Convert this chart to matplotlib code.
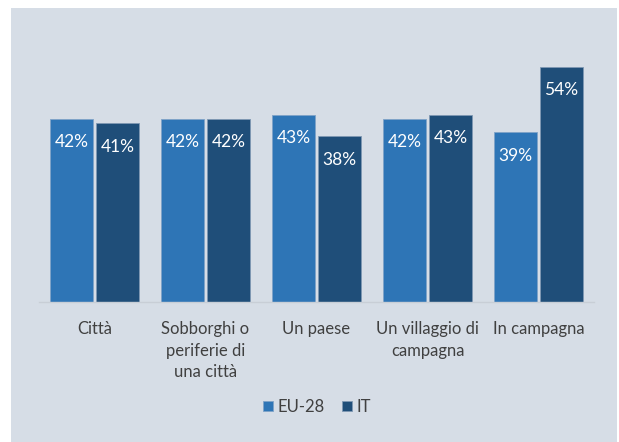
import matplotlib.pyplot as plt
import numpy as np
from matplotlib.patches import Rectangle

categorie = ['Città', 'Sobborghi o\nperiferie di\nuna città', 'Un paese',
             'Un villaggio di\ncampagna', 'In campagna']
eu28 = [42, 42, 43, 42, 39]
it = [41, 42, 38, 43, 54]
serie = ['EU-28', 'IT']

col_eu = '#2e75b6'
col_it = '#1f4e79'
sfondo = '#d6dde6'
testo = '#404040'

plt.rcParams['font.family'] = ['Lato', 'DejaVu Sans']

fig = plt.figure(figsize=(6.19, 4.42), dpi=100)
fig.patch.set_facecolor('white')
# pannello grigio-azzurro
fig.add_artist(Rectangle((11 / 619, 0), 606 / 619, 434 / 442,
                         transform=fig.transFigure, facecolor=sfondo,
                         edgecolor='none', zorder=-1))

ax = fig.add_axes([39 / 619, 1 - 302 / 442, 555 / 619, 261.6 / 442])
ax.set_facecolor('none')
ax.set_zorder(1)

x = np.arange(len(categorie))
w = 43 / 111
off = 23 / 111
b1 = ax.bar(x - off, eu28, w, color=col_eu, edgecolor='#7fa3c8', linewidth=0.6, label=serie[0])
b2 = ax.bar(x + off, it, w, color=col_it, edgecolor='#7f98b3', linewidth=0.6, label=serie[1])

for bars in (b1, b2):
    for r in bars:
        ax.text(r.get_x() + r.get_width() / 2, r.get_height() - 5.4, f'{int(r.get_height())}%',
                ha='center', va='center', color='white', fontsize=12.5)

ax.set_xlim(-0.5, len(categorie) - 0.5)
ax.set_ylim(0, 60)
ax.set_yticks([])
ax.set_xticks(x)
ax.set_xticklabels(categorie, fontsize=12, color=testo, linespacing=1.4, va='top')
ax.tick_params(axis='x', length=0, pad=14)
for s in ['top', 'right', 'left']:
    ax.spines[s].set_visible(False)
ax.spines['bottom'].set_color('#c8ced6')
ax.spines['bottom'].set_linewidth(1)

fig.legend(loc='center', bbox_to_anchor=(317 / 619, 1 - 407 / 442), ncol=2, frameon=False,
           handlelength=0.6, handleheight=0.6, handletextpad=0.3, columnspacing=1.0,
           fontsize=12, labelcolor=testo)

fig.savefig('out.png', dpi=100)
